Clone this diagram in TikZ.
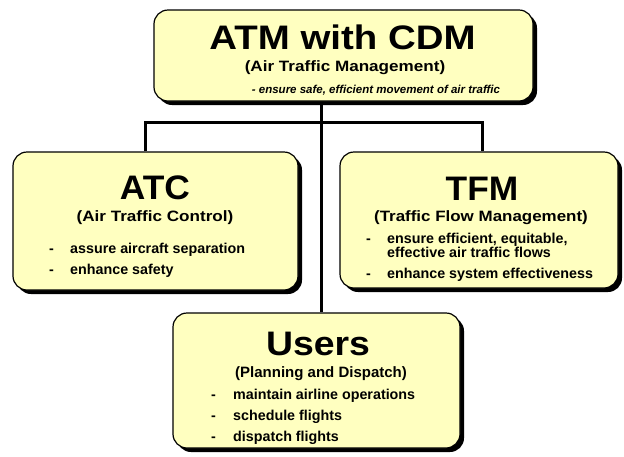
\documentclass[tikz,border=0pt]{standalone}
\usepackage{fontspec}
\setmainfont{Liberation Sans}
\usetikzlibrary{shadows}
\definecolor{boxfill}{RGB}{255,255,192}
% horizontal stretch of a piece of text
\newcommand{\hstretch}[2]{\scalebox{#1}[1]{#2}}
\begin{document}
\begin{tikzpicture}[x=1pt,y=-1pt,
  box/.style={draw=black, line width=1.2pt, fill=boxfill, rounded corners=14pt,
    inner sep=0pt, drop shadow={shadow xshift=4pt, shadow yshift=-4pt, fill=black, opacity=1}},
  link/.style={line width=3pt, draw=black, line join=miter},
  headline/.style={anchor=base, inner sep=0pt, font=\fontsize{34}{38}\selectfont\bfseries},
  subline/.style={anchor=base, inner sep=0pt, font=\fontsize{15}{17}\selectfont\bfseries},
  noteline/.style={anchor=base, inner sep=0pt, font=\fontsize{11.5}{13}\selectfont\bfseries\itshape},
  itemtext/.style={anchor=base west, inner sep=0pt, font=\fontsize{14.3}{16}\selectfont\bfseries},
]
\useasboundingbox (0,0) rectangle (624,456);

% junction points of the connector bus
\coordinate (bus) at (321,122);
\coordinate (jl) at (145,122);
\coordinate (jr) at (482,122);

% boxes
\node[box, minimum width=379pt, minimum height=91pt] (atm) at (343.5,55.5) {};
\node[box, minimum width=285pt, minimum height=138pt] (atc) at (155.5,221) {};
\node[box, minimum width=278pt, minimum height=136pt] (tfm) at (479,220) {};
\node[box, minimum width=287pt, minimum height=135pt] (users) at (316.5,380.5) {};

% connectors
\draw[link] (atm.south -| bus) -- (users.north -| bus);
\draw[link] (atc.north -| jl) -- (jl) -- (jr) -- (tfm.north -| jr);

% ATM with CDM
\node[headline] (atmT) at (342.5,49) {\hstretch{1.13}{ATM with CDM}};
\node[subline] (atmS) at (345,71) {\hstretch{1.14}{(Air Traffic Management)}};
\node[noteline] (atmN) at (376,93) {- ensure safe, efficient movement of air traffic};

% ATC
\node[headline] (atcT) at (155,199) {\hstretch{1.04}{ATC}};
\node[subline] (atcS) at (155,221) {\hstretch{1.14}{(Air Traffic Control)}};
\node[itemtext] (atcD1) at (49,253) {-};
\node[itemtext] (atcI1) at (70,253) {assure aircraft separation};
\node[itemtext] (atcD2) at (49,274) {-};
\node[itemtext] (atcI2) at (70,274) {enhance safety};

% TFM
\node[headline] (tfmT) at (482,200) {\hstretch{1.04}{TFM}};
\node[subline] (tfmS) at (481,221) {\hstretch{1.13}{(Traffic Flow Management)}};
\node[itemtext] (tfmD1) at (366,243) {-};
\node[itemtext] (tfmI1a) at (387,243) {ensure efficient, equitable,};
\node[itemtext] (tfmI1b) at (387,257) {effective air traffic flows};
\node[itemtext] (tfmD2) at (366,278) {-};
\node[itemtext] (tfmI2) at (387,278) {enhance system effectiveness};

% Users
\node[headline] (usrT) at (318,355) {\hstretch{1.1}{Users}};
\node[subline] (usrS) at (321,377) {(Planning and Dispatch)};
\node[itemtext] (usrD1) at (211,399) {-};
\node[itemtext] (usrI1) at (233,399) {maintain airline operations};
\node[itemtext] (usrD2) at (211,420) {-};
\node[itemtext] (usrI2) at (233,420) {schedule flights};
\node[itemtext] (usrD3) at (211,441) {-};
\node[itemtext] (usrI3) at (233,441) {dispatch flights};
\end{tikzpicture}
\end{document}
